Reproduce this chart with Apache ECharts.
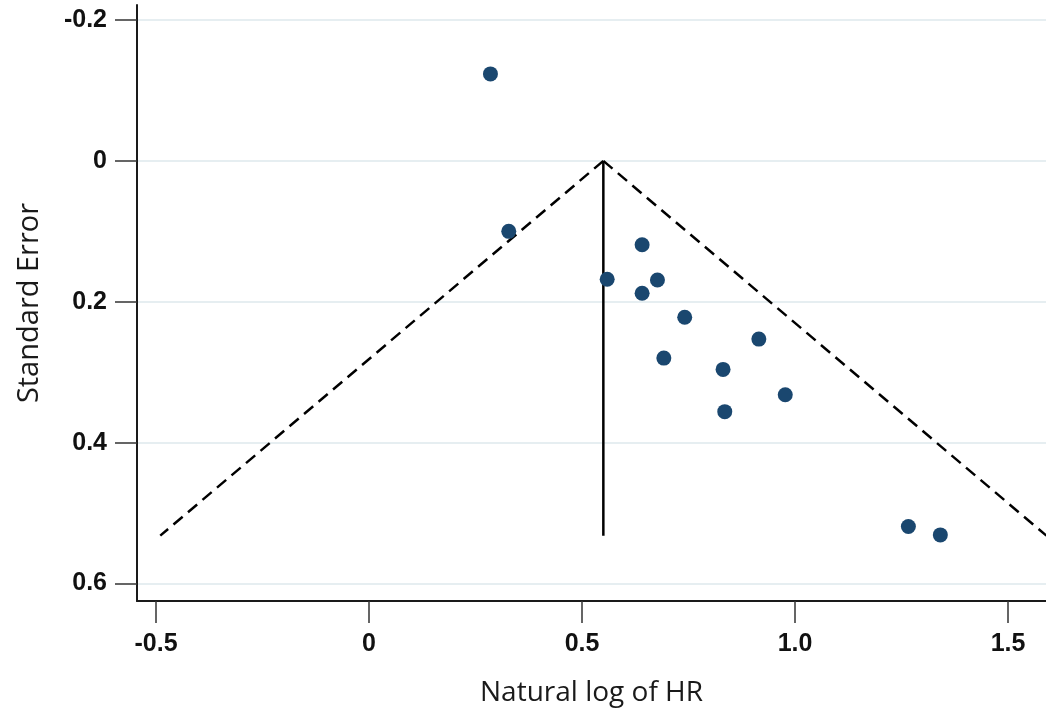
<!DOCTYPE html>
<html>
<head>
<meta charset="utf-8">
<script src="https://cdn.jsdelivr.net/npm/echarts@6/dist/echarts.min.js"></script>
<style>
html,body{margin:0;padding:0;background:#fff;}
#chart{width:1046px;height:715px;}
</style>
</head>
<body>
<div id="chart"></div>
<script>
// Study estimates: [ln(HR), standard error]
const studyLnHR = [0.285, 0.328, 0.641, 0.559, 0.677, 0.641, 0.741, 0.915, 0.692, 0.831, 0.977, 0.835, 1.266, 1.341];
const studySE   = [-0.1235, 0.100, 0.119, 0.168, 0.169, 0.188, 0.222, 0.253, 0.280, 0.296, 0.332, 0.356, 0.519, 0.531];
// Pooled estimate line and pseudo 95% confidence limits
const pooledLine  = [[0.55, 0], [0.55, 0.532]];
const funnelLeft  = [[0.55, 0], [-0.49, 0.532]];
const funnelRight = [[0.55, 0], [1.59, 0.532]];
// Axis ticks
const xTicks = [-0.5, 0, 0.5, 1.0, 1.5];
const yTicks = [-0.2, 0, 0.2, 0.4, 0.6];
const xRange = [-0.5446, 1.589];
const yRange = [-0.2213, 0.6248];

const points = studyLnHR.map((x, i) => [x, studySE[i]]);
const fmt = v => (Math.abs(v) < 1e-9 ? '0' : (+v).toFixed(1));

const chart = echarts.init(document.getElementById('chart'), null, {renderer: 'canvas'});
chart.setOption({
  animation: false,
  backgroundColor: '#ffffff',
  grid: {left: 137, right: 0, top: 5, bottom: 114, containLabel: false, outerBoundsMode: 'none'},
  xAxis: {
    type: 'value',
    min: xRange[0], max: xRange[1],
    name: 'Natural log of HR',
    nameLocation: 'middle',
    nameGap: 78,
    nameTextStyle: {fontFamily: 'Open Sans', fontSize: 28, color: '#1a1a1a'},
    axisLine: {show: true, onZero: false, lineStyle: {color: '#1a1a1a', width: 2}},
    axisTick: {show: true, inside: false, length: 22, customValues: xTicks, lineStyle: {color: '#333', width: 1.5}},
    axisLabel: {customValues: xTicks, formatter: fmt, margin: 31, fontFamily: 'Liberation Sans', fontWeight: 'bold', fontSize: 25, color: '#111'},
    splitLine: {show: false}
  },
  yAxis: {
    type: 'value',
    inverse: true,
    min: yRange[0], max: yRange[1],
    name: 'Standard Error',
    nameLocation: 'middle',
    nameGap: 93,
    nameRotate: 90,
    nameTextStyle: {fontFamily: 'Open Sans', fontSize: 29, color: '#1a1a1a'},
    axisLine: {show: true, onZero: false, lineStyle: {color: '#1a1a1a', width: 2}},
    axisTick: {show: true, inside: false, length: 22, customValues: yTicks, lineStyle: {color: '#333', width: 1.5}},
    axisLabel: {customValues: yTicks, formatter: fmt, margin: 30, fontFamily: 'Liberation Sans', fontWeight: 'bold', fontSize: 25, color: '#111'},
    splitLine: {show: true, lineStyle: {color: '#e6eef1', width: 2}}
  },
  series: [
    {
      type: 'line', data: funnelLeft, symbol: 'none', clip: true,
      lineStyle: {color: '#000', width: 2.5, type: [12, 7]}, z: 3
    },
    {
      type: 'line', data: funnelRight, symbol: 'none', clip: true,
      lineStyle: {color: '#000', width: 2.5, type: [12, 7]}, z: 3
    },
    {
      type: 'line', data: pooledLine, symbol: 'none', clip: true,
      lineStyle: {color: '#000', width: 2.5}, z: 3
    },
    {
      type: 'scatter', data: points, symbol: 'circle', symbolSize: 15,
      itemStyle: {color: '#1a476f', opacity: 1}, z: 4
    }
  ]
});
</script>
</body>
</html>
